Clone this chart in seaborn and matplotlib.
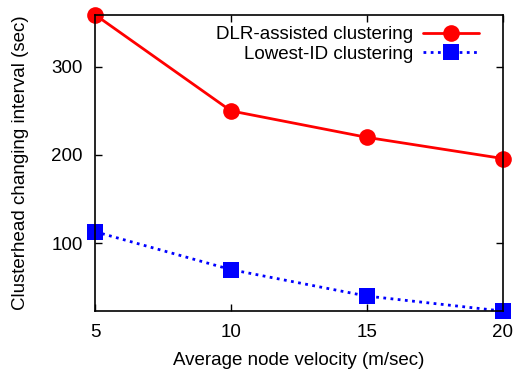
import numpy as np
import pandas as pd
import seaborn as sns
import matplotlib.pyplot as plt

# values
velocity = [5, 10, 15, 20]
dlr = [359, 250, 220, 196]
lowest_id = [113, 70, 40, 23]
labels = ["DLR-assisted clustering", "Lowest-ID clustering"]

sns.set_style("ticks", {"axes.edgecolor": "black", "text.color": "black",
                        "axes.labelcolor": "black", "xtick.color": "black",
                        "ytick.color": "black"})
plt.rcParams['font.family'] = ['Liberation Sans', 'DejaVu Sans']
plt.rcParams['font.size'] = 13.5

fig, ax = plt.subplots(figsize=(5.14, 3.69), dpi=100)

sns.lineplot(x=velocity, y=dlr, ax=ax, color="red", linewidth=2,
             marker="o", markersize=12, markeredgewidth=0,
             label=labels[0], clip_on=False)
sns.lineplot(x=velocity, y=lowest_id, ax=ax, color="blue", linewidth=2,
             linestyle=(0, (1, 1.6)), marker="s", markersize=12,
             markeredgewidth=0, label=labels[1], clip_on=False)

ax.set_xlim(5, 20)
ax.set_ylim(23, 359)
ax.set_xticks([5, 10, 15, 20])
ax.set_yticks([100, 200, 300])
ax.tick_params(direction="in", top=True, right=True, length=5, width=1,
               labelsize=13.5, pad=9)
for s in ax.spines.values():
    s.set_visible(True)
    s.set_linewidth(1.2)

ax.set_xlabel("Average node velocity (m/sec)", fontsize=13.5, labelpad=8)
ax.set_ylabel("Clusterhead changing interval (sec)", fontsize=13.5, labelpad=16)

leg = ax.legend(loc="upper right", frameon=False, markerfirst=False,
                fontsize=13.5, handlelength=3.0, borderaxespad=0.2,
                labelspacing=0.12, handletextpad=0.5,
                bbox_to_anchor=(0.97, 1.0))

plt.subplots_adjust(left=0.185, right=0.978, top=0.96, bottom=0.157)
plt.savefig("out.png", dpi=100)
